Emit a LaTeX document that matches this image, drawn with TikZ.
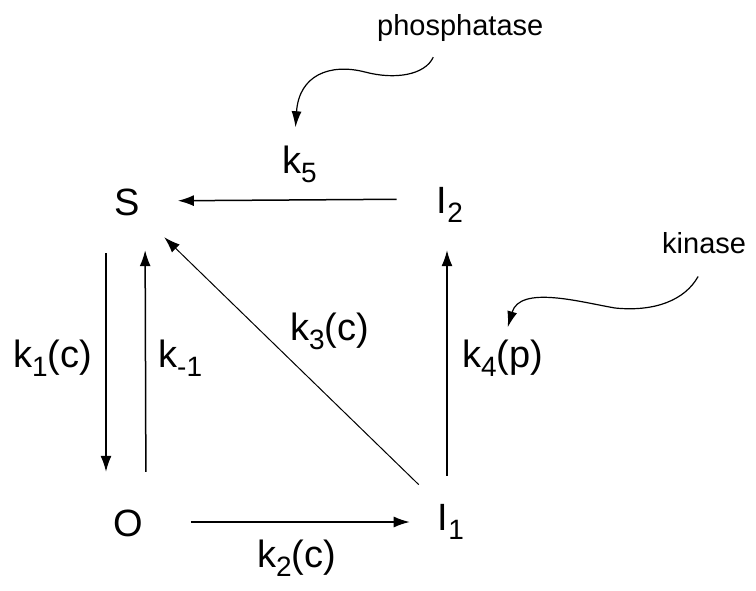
\documentclass[tikz,border=0pt]{standalone}
\usepackage{fontspec}
\setmainfont{Liberation Sans}
\usepackage{tikz}
\usetikzlibrary{arrows.meta}

\newcommand{\lowidx}[1]{\raisebox{-9pt}{\fontsize{28}{28}\selectfont #1}}

\begin{document}
\begin{tikzpicture}[
  x=1pt, y=-1pt,
  state/.style={inner sep=0pt, anchor=base, text height=28pt, text depth=0pt, font=\fontsize{38}{40}\selectfont},
  rate/.style={inner sep=0pt, anchor=base west, font=\fontsize{38}{40}\selectfont},
  enzyme/.style={inner sep=0pt, anchor=base west, font=\fontsize{29}{30}\selectfont},
  arrow/.style={-{Latex[length=16pt, width=11pt]}, line width=1.5pt},
  wiggle/.style={-{Latex[length=16pt, width=10pt]}, line width=1.2pt}
]
  \useasboundingbox (0,0) rectangle (756,590);

  % States
  \node[state] (S) at (127,215) {S};
  \node[state] (O) at (128,536) {O};
  \node[state] (I1) at (451,530) {I\lowidx{1}};
  \node[state] (I2) at (450,213) {I\lowidx{2}};

  % Rate labels
  \node[rate] (k5) at (282,173) {k\lowidx{5}};
  \node[rate] (k1) at (13,367) {k\lowidx{1}(c)};
  \node[rate] (km1) at (158,367) {k\lowidx{-1}};
  \node[rate] (k3) at (290,340) {k\lowidx{3}(c)};
  \node[rate] (k4) at (462,367) {k\lowidx{4}(p)};
  \node[rate] (k2) at (257,567) {k\lowidx{2}(c)};

  % Enzymes
  \node[enzyme] (phos) at (377,35) {phosphatase};
  \node[enzyme] (kin) at (662,253) {kinase};

  % Arrows
  \draw[arrow, shorten <=40pt, shorten >=38pt] (I2.west) -- (S.east);
  \draw[arrow, shorten <=38pt, shorten >=36pt] ([xshift=-21pt]S.south) -- ([xshift=-22pt]O.north);
  \draw[arrow, shorten <=36pt, shorten >=35pt] ([xshift=18pt]O.north) -- ([xshift=18pt]S.south);
  \draw[arrow, line width=1pt, shorten <=45pt, shorten >=52pt] (I1.center) -- (S.center);
  \draw[arrow, shorten <=48pt, shorten >=28pt] (O.east) -- (O.east -| I1.west);
  \draw[arrow, shorten <=26pt, shorten >=37pt] ([xshift=-4pt]I1.north) -- ([xshift=-3pt]I2.south);

  % Enzyme action
  \draw[wiggle] ([xshift=-27pt, yshift=-16pt]phos.south) .. controls (425,75) and (395,80) .. (365,72)
    .. controls (330,63) and (299,75) .. ([xshift=-4pt, yshift=18pt]k5.north);
  \draw[wiggle] ([xshift=-6pt, yshift=-23pt]kin.south) .. controls (685,300) and (655,312) .. (615,308)
    .. controls (580,302) and (520,285) .. ([xshift=5pt, yshift=12pt]k4.north);
\end{tikzpicture}
\end{document}
